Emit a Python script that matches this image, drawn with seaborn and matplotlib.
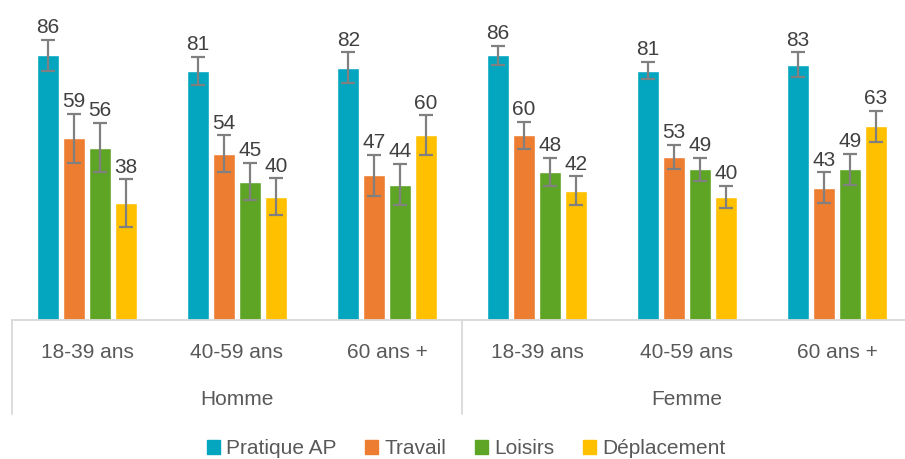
import pandas as pd
import matplotlib
matplotlib.use("Agg")
import matplotlib.pyplot as plt
import matplotlib.transforms as mtransforms
import seaborn as sns

# values
sexes = ['Homme', 'Homme', 'Homme', 'Femme', 'Femme', 'Femme']
ages = ['18-39 ans', '40-59 ans', '60 ans +', '18-39 ans', '40-59 ans', '60 ans +']
series = ['Pratique AP', 'Travail', 'Loisirs', 'Déplacement']

pratique = [86, 81, 82, 86, 81, 83]
travail = [59, 54, 47, 60, 53, 43]
loisirs = [56, 45, 44, 48, 49, 49]
deplacement = [38, 40, 60, 42, 40, 63]

err_pratique = [5, 4.5, 5, 3, 2.8, 4]
err_travail = [8, 6, 6.7, 4.5, 3.8, 5]
err_loisirs = [8, 6, 6.7, 4.6, 3.7, 5]
err_deplacement = [7.7, 6, 6.5, 4.7, 3.7, 5]

colors = ['#03A5BF', '#ED7D31', '#5EA525', '#FFC000']

values = [pratique, travail, loisirs, deplacement]
errors = [err_pratique, err_travail, err_loisirs, err_deplacement]

cats = [f"{s} {a}" for s, a in zip(sexes, ages)]
rows = []
for name, vals in zip(series, values):
    for c, v in zip(cats, vals):
        rows.append({'cat': c, 'serie': name, 'valeur': v})
df = pd.DataFrame(rows)

sns.set_theme(style="white")
plt.rcParams['font.family'] = ['Liberation Sans', 'DejaVu Sans']

fig = plt.figure(figsize=(9.05, 4.59), dpi=100)
ax = fig.add_axes([12 / 905, 139 / 459, 900 / 905, 320 / 459])

sns.barplot(data=df, x='cat', y='valeur', hue='serie', order=cats,
            hue_order=series, palette=colors, width=0.69, gap=0.17,
            errorbar=None, saturation=1, ax=ax, legend=False)

text_col = '#404040'
for cont, errs, vals in zip(ax.containers, errors, values):
    xs = [p.get_x() + p.get_width() / 2 for p in cont.patches]
    ax.errorbar(xs, vals, yerr=errs, fmt='none', ecolor='#808080',
                elinewidth=1.6, capsize=5, capthick=1.6, zorder=3)
    for x, v, e in zip(xs, vals, errs):
        ax.annotate(f"{v}", (x, v + e), xytext=(0, 2), textcoords='offset points',
                    ha='center', va='bottom', fontsize=15, color=text_col)

ax.set_ylim(0, 104)
ax.set_xlim(-0.5, 5.5)
ax.set_yticks([])
ax.set_xticks([])
ax.set_xlabel('')
ax.set_ylabel('')
for side in ['top', 'right', 'left']:
    ax.spines[side].set_visible(False)
ax.spines['bottom'].set_color('#D9D9D9')
ax.spines['bottom'].set_linewidth(1.3)

trans = mtransforms.blended_transform_factory(ax.transData, ax.transAxes)
for i, a in enumerate(ages):
    ax.text(i, -0.10, a, transform=trans, ha='center', va='center',
            fontsize=15, color='#595959')
for i, s in enumerate(['Homme', 'Femme']):
    ax.text(1 + 3 * i, -0.247, s, transform=trans, ha='center', va='center',
            fontsize=15, color='#595959')
for x in [-0.5, 2.5, 5.5]:
    ax.plot([x, x], [0, -0.293], transform=trans, color='#D9D9D9',
            lw=1.3, clip_on=False)

handles = [plt.Rectangle((0, 0), 1, 1, color=c) for c in colors]
fig.legend(handles, series, loc='center', bbox_to_anchor=(466 / 905, 1 - 449 / 459),
           ncol=4, frameon=False, fontsize=15, handlelength=0.62, handleheight=0.62,
           handletextpad=0.28, columnspacing=1.4, labelcolor='#595959')

fig.savefig('out.png', dpi=100)
